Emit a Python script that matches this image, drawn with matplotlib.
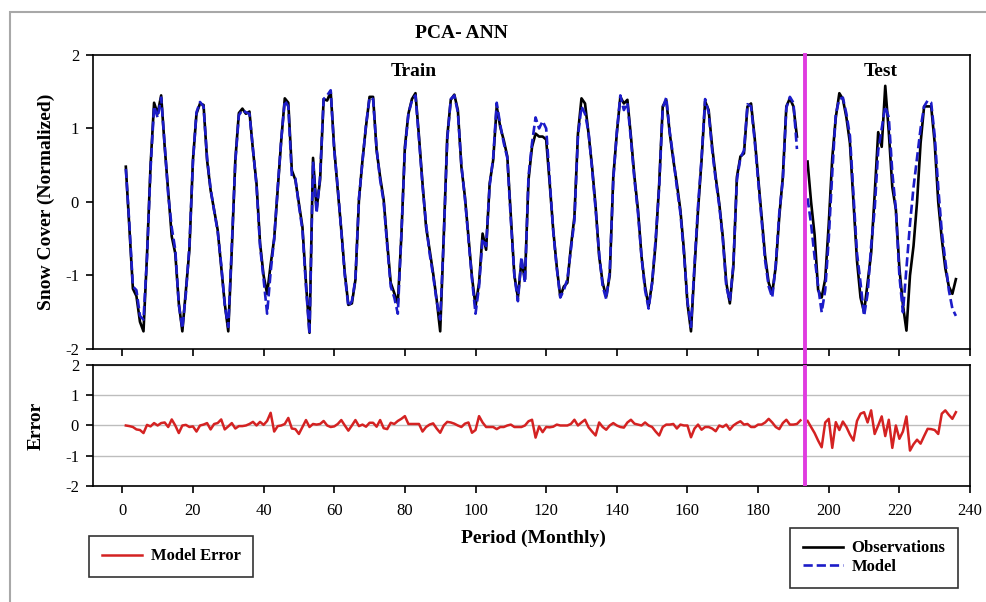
import matplotlib
matplotlib.use("Agg")
import matplotlib.pyplot as plt
import numpy as np
from matplotlib.patches import Rectangle

plt.rcParams['font.family'] = ['Liberation Serif', 'DejaVu Serif']
plt.rcParams['axes.unicode_minus'] = False

# months
train_start, train_end = 1, 191
test_start, test_end = 194, 236
err_train_end = 192

obs_train = [0.48, -0.35, -1.18, -1.28, -1.63, -1.76, -0.72, 0.5, 1.35, 1.2,
             1.45, 0.75, 0.14, -0.47, -0.7, -1.38, -1.76, -1.2, -0.65, 0.57,
             1.2, 1.34, 1.32, 0.57, 0.16, -0.11, -0.38, -0.88, -1.38, -1.76,
             -0.65, 0.57, 1.21, 1.27, 1.2, 1.23, 0.7, 0.25, -0.56, -1.0,
             -1.25, -0.85, -0.5, 0.16, 0.84, 1.41, 1.35, 0.43, 0.3, -0.02,
             -0.34, -1.1, -1.78, 0.6, -0.1, 0.3, 1.4, 1.38, 1.5, 0.73,
             0.16, -0.38, -0.97, -1.4, -1.38, -1.06, 0.03, 0.57, 1.03, 1.43,
             1.43, 0.7, 0.34, 0.03, -0.56, -1.1, -1.24, -1.38, -0.47, 0.75,
             1.2, 1.4, 1.48, 0.89, 0.25, -0.34, -0.65, -0.97, -1.33, -1.76,
             -0.47, 0.89, 1.39, 1.46, 1.25, 0.48, 0.07, -0.47, -1.02, -1.42,
             -1.1, -0.43, -0.65, 0.25, 0.57, 1.3, 1.02, 0.84, 0.62, -0.2,
             -1.0, -1.3, -0.8, -1.05, 0.3, 0.75, 0.93, 0.89, 0.89, 0.85,
             0.25, -0.38, -0.88, -1.29, -1.15, -1.1, -0.61, -0.2, 0.93, 1.41,
             1.34, 0.93, 0.48, -0.06, -0.74, -1.1, -1.29, -1.0, 0.34, 0.93,
             1.43, 1.34, 1.39, 0.89, 0.34, -0.11, -0.74, -1.15, -1.42, -1.1,
             -0.56, 0.25, 1.3, 1.39, 0.93, 0.57, 0.25, -0.11, -0.65, -1.38,
             -1.76, -0.9, -0.11, 0.57, 1.37, 1.25, 0.75, 0.34, -0.02, -0.47,
             -1.1, -1.38, -0.88, 0.34, 0.62, 0.66, 1.3, 1.34, 0.89, 0.34,
             -0.2, -0.74, -1.1, -1.24, -0.88, -0.2, 0.34, 1.3, 1.41, 1.3,
             0.89]

model_train = [0.45, -0.3, -1.15, -1.2, -1.55, -1.6, -0.75, 0.45, 1.3, 1.15,
               1.42, 0.78, 0.1, -0.35, -0.65, -1.4, -1.72, -1.25, -0.6, 0.55,
               1.22, 1.36, 1.3, 0.6, 0.18, -0.12, -0.4, -0.85, -1.4, -1.7,
               -0.6, 0.55, 1.18, 1.25, 1.22, 1.2, 0.72, 0.22, -0.6, -1.05,
               -1.52, -0.95, -0.5, 0.2, 0.85, 1.38, 1.3, 0.35, 0.32, -0.05,
               -0.38, -1.15, -1.8, 0.55, -0.15, 0.35, 1.4, 1.45, 1.52, 0.7,
               0.2, -0.4, -1.0, -1.42, -1.35, -1.05, 0.05, 0.55, 1.05, 1.42,
               1.4, 0.72, 0.3, 0.0, -0.6, -1.15, -1.3, -1.52, -0.45, 0.7,
               1.2, 1.38, 1.45, 0.85, 0.22, -0.3, -0.7, -1.0, -1.35, -1.6,
               -0.5, 0.85, 1.4, 1.45, 1.22, 0.5, 0.05, -0.5, -1.05, -1.52,
               -1.15, -0.5, -0.6, 0.22, 0.6, 1.35, 1.05, 0.8, 0.6, -0.25,
               -1.0, -1.35, -0.75, -1.1, 0.35, 0.8, 1.15, 1.0, 1.1, 1.0,
               0.3, -0.4, -0.9, -1.3, -1.2, -1.05, -0.65, -0.25, 0.9, 1.3,
               1.2, 0.95, 0.45, -0.1, -0.7, -1.15, -1.32, -0.95, 0.3, 0.95,
               1.45, 1.25, 1.35, 0.85, 0.3, -0.15, -0.75, -1.2, -1.45, -1.1,
               -0.5, 0.2, 1.28, 1.42, 0.95, 0.6, 0.2, -0.15, -0.7, -1.35,
               -1.7, -0.85, -0.05, 0.6, 1.4, 1.22, 0.7, 0.3, -0.05, -0.5,
               -1.15, -1.35, -0.85, 0.3, 0.6, 0.7, 1.33, 1.3, 0.85, 0.3,
               -0.25, -0.8, -1.15, -1.3, -0.85, -0.15, 0.3, 1.28, 1.43, 1.35,
               0.72]

obs_test = [0.55, 0.0, -0.45, -1.2, -1.3, -1.05, -0.3, 0.6, 1.15, 1.48,
            1.4, 1.15, 0.8, 0.0, -0.8, -1.3, -1.5, -1.1, -0.7, 0.1,
            0.95, 0.75, 1.58, 0.95, 0.2, -0.1, -0.9, -1.4, -1.75, -1.0,
            -0.6, 0.0, 0.8, 1.3, 1.3, 1.3, 0.8, 0.0, -0.5, -0.9,
            -1.15, -1.25, -1.05]

model_test = [0.05, -0.3, -0.75, -1.15, -1.5, -1.2, -0.5, 0.4, 1.2, 1.4,
              1.42, 1.2, 0.9, 0.1, -0.7, -1.1, -1.55, -1.25, -0.6, -0.1,
              0.7, 1.0, 1.3, 1.15, 0.4, -0.1, -1.0, -1.5, -0.9, -0.3,
              0.2, 0.6, 1.0, 1.3, 1.38, 1.35, 0.9, 0.2, -0.4, -0.8,
              -1.2, -1.45, -1.55]

err_train = [0.0, -0.02, -0.05, -0.13, -0.15, -0.25, 0.02, -0.03, 0.08, 0.0,
             0.08, 0.1, -0.05, 0.2, 0.0, -0.25, 0.0, 0.02, -0.05, -0.03,
             -0.2, 0.0, 0.03, 0.08, -0.13, 0.05, 0.08, 0.2, -0.13, -0.03,
             0.08, -0.1, -0.02, -0.02, 0.0, 0.05, 0.12, 0.0, 0.12, 0.02,
             0.15, 0.42, -0.2, -0.02, 0.0, 0.05, 0.25, -0.1, -0.12, -0.28,
             -0.05, 0.18, -0.05, 0.05, 0.03, 0.05, 0.15, 0.0, -0.05, -0.03,
             0.05, 0.18, 0.0, -0.17, 0.0, 0.18, -0.02, 0.03, -0.04, 0.09,
             0.09, -0.04, 0.18, -0.09, -0.12, 0.09, 0.05, 0.15, 0.22, 0.31,
             0.05, 0.05, 0.05, 0.05, -0.2, -0.05, 0.03, 0.07, -0.1, -0.24,
             0.0, 0.12, 0.1, 0.06, 0.0, -0.05, 0.06, 0.1, -0.24, -0.15,
             0.31, 0.1, -0.05, -0.05, -0.05, -0.12, -0.05, -0.05, 0.0, 0.03,
             -0.05, -0.05, -0.05, 0.0, 0.14, 0.19, -0.4, -0.03, -0.22, -0.05,
             -0.06, -0.04, 0.03, 0.0, 0.0, 0.0, 0.05, 0.19, 0.0, 0.1,
             0.19, -0.06, -0.2, -0.33, 0.1, -0.05, -0.14, 0.0, 0.08, 0.0,
             -0.05, -0.07, 0.1, 0.19, 0.06, 0.03, 0.0, 0.1, 0.0, -0.05,
             -0.2, -0.33, -0.05, 0.03, 0.03, 0.05, -0.1, 0.03, 0.0, 0.0,
             -0.39, -0.1, 0.03, -0.14, -0.05, -0.05, -0.1, -0.19, 0.0, -0.05,
             0.03, -0.14, 0.0, 0.08, 0.14, 0.03, 0.05, -0.05, -0.05, 0.03,
             0.03, 0.1, 0.22, 0.1, -0.05, -0.12, 0.08, 0.19, 0.03, 0.03,
             0.05, 0.17]

err_test = [0.15, -0.05, -0.25, -0.5, -0.72, 0.1, 0.22, -0.74, 0.11, -0.15,
            0.13, -0.05, -0.3, -0.5, 0.15, 0.39, 0.44, 0.1, 0.5, -0.28,
            0.0, 0.3, -0.35, 0.19, -0.74, 0.0, -0.44, -0.2, 0.3, -0.83,
            -0.62, -0.47, -0.6, -0.35, -0.11, -0.12, -0.15, -0.28, 0.39, 0.5,
            0.35, 0.22, 0.44]

x_train = np.arange(train_start, train_end + 1)
x_test = np.arange(test_start, test_end + 1)
x_err_train = np.arange(train_start, err_train_end + 1)

split_month = 193.3
BLUE = '#1c1cc8'
RED = '#d42222'
MAGENTA = '#e03ce0'

fig = plt.figure(figsize=(9.86, 6.02), dpi=100)
fig.patches.append(Rectangle((10 / 986, -0.05), 1.1, 1 - 12 / 602 + 0.05,
                             transform=fig.transFigure, fill=False,
                             edgecolor='#a8a8a8', lw=1.5))

ax1 = fig.add_axes([0.0943, 0.4203, 0.8895, 0.4884])
ax2 = fig.add_axes([0.0943, 0.1927, 0.8895, 0.2010])

obs_line, = ax1.plot(x_train, obs_train, color='black', lw=1.9, label='Observations')
ax1.plot(x_test, obs_test, color='black', lw=1.9)
model_line, = ax1.plot(x_train, model_train, color=BLUE, lw=1.9, ls=(0, (3.5, 1.5)), label='Model')
ax1.plot(x_test, model_test, color=BLUE, lw=1.9, ls=(0, (3.5, 1.5)))

err_line, = ax2.plot(x_err_train, err_train, color=RED, lw=1.8, label='Model Error')
ax2.plot(x_test, err_test, color=RED, lw=1.8)

for ax in (ax1, ax2):
    ax.set_xlim(-8.3, 240)
    ax.set_ylim(-2, 2)
    ax.set_yticks([-2, -1, 0, 1, 2])
    ax.set_xticks(np.arange(0, 241, 20))
    ax.tick_params(direction='out', length=5, width=1.2, labelsize=12)
    ax.tick_params(axis='y', pad=5)
    ax.tick_params(axis='x', pad=7.5)
    for s in ax.spines.values():
        s.set_linewidth(1.2)

ax1.tick_params(axis='x', labelbottom=False)
ax2.yaxis.grid(True, color='#bdbdbd', lw=1)
ax2.set_axisbelow(True)

gap = (365 - 349) / 294
ax1.axvline(split_month, ymin=-gap, ymax=1, color=MAGENTA, lw=2.8, clip_on=False, zorder=5)
ax2.axvline(split_month, color=MAGENTA, lw=2.8, zorder=5)

ax1.text(82.4, 1.77, 'Train', ha='center', va='center', fontsize=14, fontweight='bold')
ax1.text(214.7, 1.77, 'Test', ha='center', va='center', fontsize=14, fontweight='bold')

ax1.set_ylabel('Snow Cover (Normalized)', fontsize=14, fontweight='bold')
ax1.yaxis.set_label_coords(-0.0434, 0.5)
ax2.set_ylabel('Error', fontsize=14, fontweight='bold')
ax2.yaxis.set_label_coords(-0.0548, 0.5)

fig.text(533 / 986, 1 - 538 / 602, 'Period (Monthly)', ha='center', va='center',
         fontsize=14, fontweight='bold')
fig.text(461 / 986, 1 - 33 / 602, 'PCA- ANN', ha='center', va='center',
         fontsize=14, fontweight='bold')

leg_kw = dict(frameon=True, fancybox=False, edgecolor='black',
              handlelength=2.4, handletextpad=0.55, borderpad=0.75,
              labelspacing=0.15, borderaxespad=0,
              prop={'weight': 'bold', 'size': 12})
l1 = fig.legend(handles=[err_line], loc='upper left',
                bbox_to_anchor=(89 / 986, 1 - 536 / 602), **leg_kw)
l2 = fig.legend(handles=[obs_line, model_line], loc='upper left',
                bbox_to_anchor=(790 / 986, 1 - 528 / 602), **leg_kw)
for leg in (l1, l2):
    leg.get_frame().set_linewidth(1.2)

fig.savefig('out.png', dpi=100)
